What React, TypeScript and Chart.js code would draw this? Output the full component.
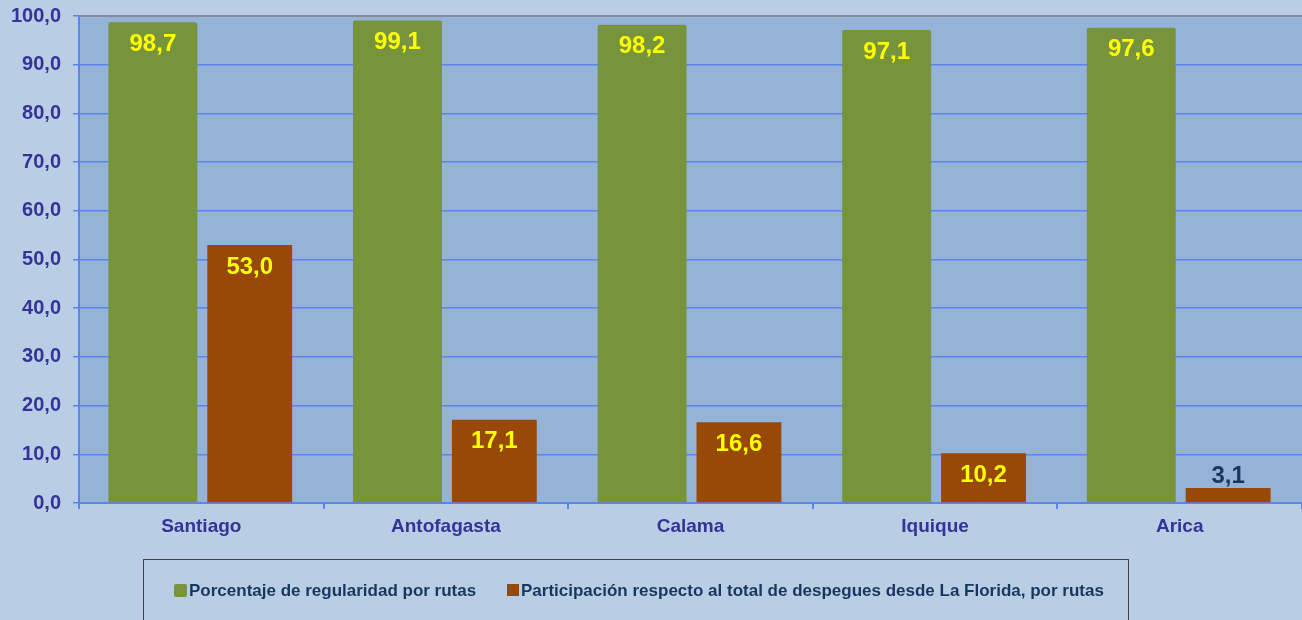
import React, { useEffect, useRef } from "react";
import { Chart, registerables } from "chart.js";

Chart.register(...registerables);

const categories = ["Santiago", "Antofagasta", "Calama", "Iquique", "Arica"];
const regularidad = [98.7, 99.1, 98.2, 97.1, 97.6];
const participacion = [53.0, 17.1, 16.6, 10.2, 3.1];
const seriesNames = [
  "Porcentaje de regularidad por rutas",
  "Participación respecto al total de despegues desde La Florida, por rutas",
];
const yTickValues = [0, 10, 20, 30, 40, 50, 60, 70, 80, 90, 100];

const GREEN = "#77933c";
const BROWN = "#984807";
const PAGE_BG = "#b9cde5";
const PLOT_BG = "#95b3d7";
const GRID = "#5a84ee";
const TICK_TEXT = "#333399";
const NAVY = "#17375e";
const FONT = "'Liberation Sans', Arial, sans-serif";

const fmt = (v: number) => v.toFixed(1).replace(".", ",");

const plotBgPlugin = {
  id: "plotBg",
  beforeDraw(chart: any) {
    const { ctx, chartArea } = chart;
    ctx.save();
    ctx.fillStyle = PLOT_BG;
    ctx.fillRect(chartArea.left, chartArea.top, chartArea.right - chartArea.left, chartArea.bottom - chartArea.top);
    ctx.restore();
  },
  afterDraw(chart: any) {
    const { ctx, chartArea } = chart;
    ctx.save();
    ctx.strokeStyle = "#868b9c";
    ctx.lineWidth = 2;
    ctx.beginPath();
    ctx.moveTo(chartArea.left, chartArea.top);
    ctx.lineTo(chartArea.right, chartArea.top);
    ctx.stroke();
    ctx.restore();
  },
};

const labelPlugin = {
  id: "barLabels",
  afterDatasetsDraw(chart: any) {
    const { ctx } = chart;
    ctx.save();
    ctx.font = `bold 24px ${FONT}`;
    ctx.textAlign = "center";
    ctx.textBaseline = "middle";
    chart.data.datasets.forEach((ds: any, di: number) => {
      const meta = chart.getDatasetMeta(di);
      meta.data.forEach((bar: any, i: number) => {
        const v = ds.data[i] as number;
        if (v < 5) {
          ctx.fillStyle = NAVY;
          ctx.fillText(fmt(v), bar.x, bar.y - 12);
        } else {
          ctx.fillStyle = "#ffff00";
          ctx.fillText(fmt(v), bar.x, bar.y + 22);
        }
      });
    });
    ctx.restore();
  },
};

export default function App() {
  const ref = useRef<HTMLCanvasElement>(null);

  useEffect(() => {
    if (!ref.current) return;
    const chart = new Chart(ref.current, {
      type: "bar",
      data: {
        labels: categories,
        datasets: [
          {
            label: seriesNames[0],
            data: regularidad,
            backgroundColor: GREEN,
            categoryPercentage: 0.792,
            barPercentage: 0.918,
            borderRadius: { topLeft: 2, topRight: 2, bottomLeft: 0, bottomRight: 0 },
            borderSkipped: false,
          },
          {
            label: seriesNames[1],
            data: participacion,
            backgroundColor: BROWN,
            categoryPercentage: 0.792,
            barPercentage: 0.876,
          },
        ],
      },
      options: {
        animation: false,
        responsive: false,
        devicePixelRatio: 1,
        layout: { padding: { top: 16, left: 0, right: 0, bottom: 77 } },
        plugins: {
          legend: { display: false },
          tooltip: { enabled: false },
        },
        scales: {
          x: {
            grid: {
              display: true,
              drawOnChartArea: false,
              drawTicks: true,
              tickLength: 6,
              color: GRID,
              lineWidth: 2,
            },
            border: { display: true, color: GRID, width: 2 },
            ticks: {
              color: TICK_TEXT,
              font: { family: FONT, size: 19, weight: "bold" },
              padding: 6,
            },
            afterFit(scale: any) {
              scale.height = 40;
              scale.paddingLeft = 0;
              scale.paddingRight = 0;
            },
          },
          y: {
            min: 0,
            max: 100,
            afterBuildTicks(scale: any) {
              scale.ticks = yTickValues.map((v) => ({ value: v }));
            },
            grid: {
              color: GRID,
              lineWidth: 1.5,
              tickLength: 6,
              tickColor: GRID,
            },
            border: { display: true, color: GRID, width: 2 },
            ticks: {
              color: TICK_TEXT,
              font: { family: FONT, size: 20, weight: "bold" },
              padding: 12,
              callback: (v: any) => fmt(Number(v)),
            },
            afterFit(scale: any) {
              scale.width = 79;
              scale.paddingTop = 0;
              scale.paddingBottom = 0;
            },
          },
        },
      },
      plugins: [plotBgPlugin, labelPlugin],
    });
    return () => chart.destroy();
  }, []);

  return (
    <div
      style={{
        position: "fixed",
        left: 0,
        top: 0,
        width: 1302,
        height: 620,
        background: PAGE_BG,
        overflow: "hidden",
      }}
    >
      <canvas ref={ref} width={1302} height={620} style={{ position: "absolute", left: 0, top: 0 }} />
      <div
        style={{
          position: "absolute",
          left: 143,
          top: 559,
          width: 986,
          height: 100,
          border: "1.5px solid #404040",
          boxSizing: "border-box",
          fontFamily: FONT,
          fontWeight: "bold",
          fontSize: 17,
          color: NAVY,
        }}
      >
        <div style={{ position: "absolute", left: 30, top: 24, width: 13, height: 13, background: GREEN, borderRadius: 2 }} />
        <div style={{ position: "absolute", left: 45, top: 21, lineHeight: "20px", whiteSpace: "nowrap" }}>
          {seriesNames[0]}
        </div>
        <div style={{ position: "absolute", left: 363, top: 24, width: 12, height: 12, background: BROWN }} />
        <div style={{ position: "absolute", left: 377, top: 21, lineHeight: "20px", whiteSpace: "nowrap" }}>
          {seriesNames[1]}
        </div>
      </div>
    </div>
  );
}
